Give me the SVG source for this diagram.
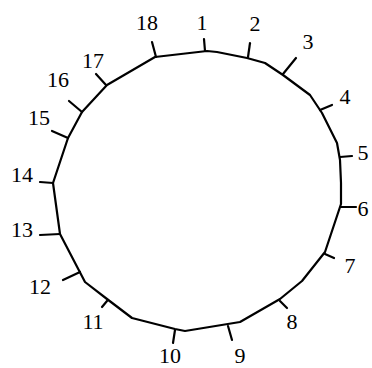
<svg xmlns="http://www.w3.org/2000/svg" width="372" height="368" viewBox="0 0 372 368">
<style>
.ring{fill:none;stroke:#000;stroke-width:2.2;stroke-linejoin:round}
.tick{stroke:#000;stroke-width:2.2;stroke-linecap:round}
text{font-family:"Liberation Serif","Times New Roman",serif;font-size:22px;fill:#000;text-anchor:middle}
</style>
<rect width="372" height="368" fill="#fff"/>
<g id="ring">
<polygon class="ring" points="53,183 68,138 82,112 107,85 155,57 207,51 217,52 247,58 265,63 283,75 310,95 322,113 337,143 340,160 341,183 341,204 325,252 302,281 280,299 240,322 185,331 175,329 132,318 107,299 85,282 60,234"/>
</g>
<g id="connectors">
<line class="tick" x1="205" y1="51" x2="204" y2="39"/>
<line class="tick" x1="248" y1="57" x2="250" y2="43"/>
<line class="tick" x1="283" y1="74" x2="296" y2="58"/>
<line class="tick" x1="320" y1="110" x2="332" y2="105"/>
<line class="tick" x1="340" y1="157" x2="352" y2="156"/>
<line class="tick" x1="341" y1="207" x2="356" y2="207"/>
<line class="tick" x1="325" y1="254" x2="334" y2="258"/>
<line class="tick" x1="280" y1="301" x2="287" y2="308"/>
<line class="tick" x1="228" y1="326" x2="232" y2="340"/>
<line class="tick" x1="175" y1="330" x2="173" y2="343"/>
<line class="tick" x1="107" y1="301" x2="102" y2="307"/>
<line class="tick" x1="80" y1="272" x2="63" y2="280"/>
<line class="tick" x1="60" y1="234" x2="40" y2="235"/>
<line class="tick" x1="53" y1="183" x2="40" y2="182"/>
<line class="tick" x1="68" y1="138" x2="52" y2="131"/>
<line class="tick" x1="82" y1="112" x2="69" y2="101"/>
<line class="tick" x1="106" y1="85" x2="96" y2="74"/>
<line class="tick" x1="156" y1="57" x2="152" y2="42"/>
</g>
<g id="labels">
<text x="202" y="30">1</text>
<text x="255" y="31">2</text>
<text x="308" y="49">3</text>
<text x="345" y="104">4</text>
<text x="363" y="160">5</text>
<text x="363" y="216">6</text>
<text x="350" y="273">7</text>
<text x="292" y="329">8</text>
<text x="240" y="363">9</text>
<text x="170" y="363">10</text>
<text x="93" y="329">11</text>
<text x="40" y="294">12</text>
<text x="22" y="237">13</text>
<text x="22" y="182">14</text>
<text x="39" y="125">15</text>
<text x="58" y="87">16</text>
<text x="93" y="68">17</text>
<text x="147" y="30">18</text>
</g>
</svg>
